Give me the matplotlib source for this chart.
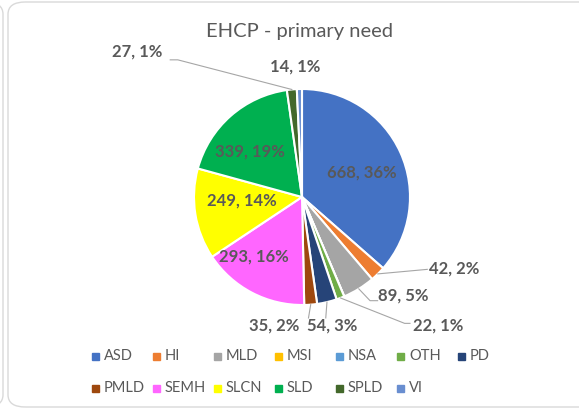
import numpy as np
import matplotlib.pyplot as plt
from matplotlib.patches import FancyBboxPatch, Rectangle

plt.rcParams['font.family'] = ['Lato', 'DejaVu Sans']

# EHCP counts by primary need (clockwise from 12 o'clock)
needs = ['ASD', 'HI', 'MLD', 'MSI', 'NSA', 'OTH', 'PD',
         'PMLD', 'SEMH', 'SLCN', 'SLD', 'SPLD', 'VI']
counts = [668, 42, 89, 0, 0, 22, 54, 35, 293, 249, 339, 27, 14]
colors = ['#4472C4', '#ED7D31', '#A5A5A5', '#FFC000', '#5B9BD5', '#70AD47', '#264478',
          '#9E480E', '#FF66FF', '#FFFF00', '#00B050', '#43682B', '#698ED0']

# labels that sit inside their slice (position in radius units)
inside = {'ASD': (0.55, 0.23), 'SLD': (-0.48, 0.42),
          'SLCN': (-0.56, -0.03), 'SEMH': (-0.45, -0.55)}
# outside labels: text position, alignment and leader path (in radius units)
outside = {
    'HI':   ((1.18, -0.66), 'left', [(1.16, -0.67)]),
    'MLD':  ((0.70, -0.91), 'left', [(0.63, -0.96), (0.70, -0.96)]),
    'OTH':  ((1.03, -1.19), 'left', [(0.95, -1.17), (1.00, -1.17)]),
    'PD':   ((0.05, -1.19), 'left', [(0.22, -1.12)]),
    'PMLD': ((-0.02, -1.19), 'right', [(0.06, -1.12)]),
    'SPLD': ((-1.29, 1.35), 'right', [(-1.15, 1.27), (-1.22, 1.27)]),
    'VI':   ((-0.06, 1.21), 'center', []),
}

W, H = 579, 409
fig = plt.figure(figsize=(W / 100, H / 100), dpi=100)

# chart frames
fig.patches.append(FancyBboxPatch((8 / W, 2 / H), 1.2, 1 - 4 / H, boxstyle='round,pad=0,rounding_size=0.03',
                                  transform=fig.transFigure, fill=False, ec='#D9D9D9', lw=1))
fig.patches.append(FancyBboxPatch((-1.0, 2 / H), 1.0 + 3 / W, 1 - 4 / H, boxstyle='round,pad=0,rounding_size=0.03',
                                  transform=fig.transFigure, fill=False, ec='#D9D9D9', lw=1))

cx, cy, r = 302, 197, 108
ax = fig.add_axes([(cx - r) / W, (H - cy - r) / H, 2 * r / W, 2 * r / H])
ax.axis('off')

wedges, _ = ax.pie(counts, colors=colors, startangle=90, counterclock=False, radius=1,
                   wedgeprops=dict(edgecolor='white', linewidth=1.5))
ax.set_xlim(-1, 1)
ax.set_ylim(-1, 1)

total = sum(counts)
txt = dict(color='#595959', fontsize=12, fontweight='bold')
for name, c, w in zip(needs, counts, wedges):
    if c == 0:
        continue
    lab = f'{c}, {round(100 * c / total)}%'
    ang = np.deg2rad((w.theta1 + w.theta2) / 2)
    ex, ey = np.cos(ang), np.sin(ang)
    if name in inside:
        ix, iy = inside[name]
        ax.text(ix, iy, lab, ha='center', va='center', **txt)
    elif name in outside:
        (tx, ty), ha, path = outside[name]
        ax.text(tx, ty, lab, ha=ha, va='center', clip_on=False, **txt)
        if path:
            xs = [ex] + [p[0] for p in path]
            ys = [ey] + [p[1] for p in path]
            ax.plot(xs, ys, color='#A6A6A6', lw=0.8, clip_on=False)

fig.text(300 / W, 1 - 32 / H, 'EHCP - primary need', ha='center', va='center',
         fontsize=14.5, color='#595959')

# legend, row by row
for i, (name, col) in enumerate(zip(needs, colors)):
    row, cl = divmod(i, 7)
    x = 92 + cl * 61
    y = H - (356 + row * 32)
    fig.patches.append(Rectangle((x / W, (y - 3.5) / H), 7 / W, 7 / H,
                                 transform=fig.transFigure, color=col))
    fig.text((x + 12) / W, y / H, name, ha='left', va='center', fontsize=10.5, color='#595959')

fig.savefig('out.png', dpi=100)
